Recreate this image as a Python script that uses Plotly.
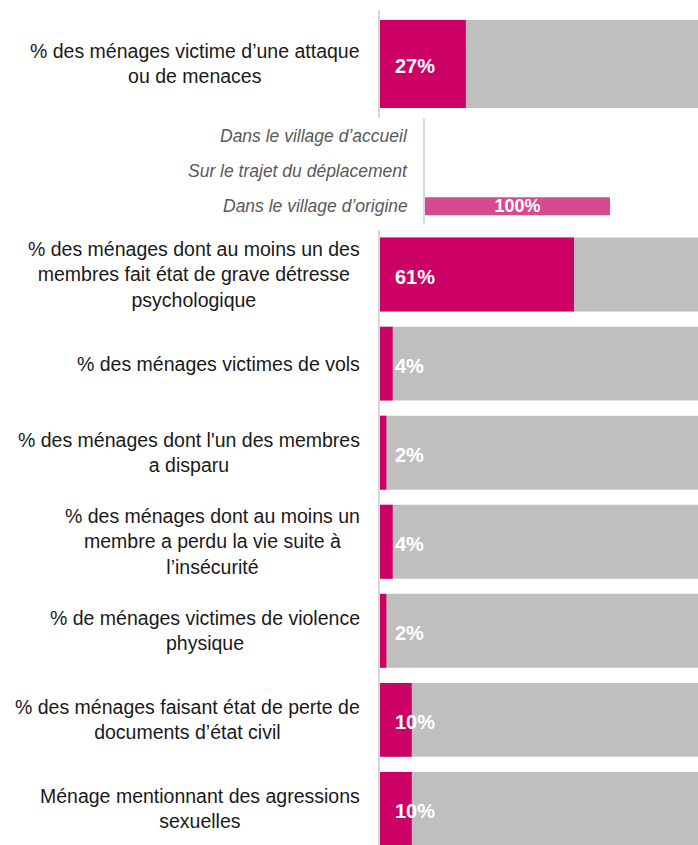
import plotly.graph_objects as go

# ---- data ----
top_label = ["% des ménages victime d’une attaque<br>ou de menaces"]
top_value = [27]

sub_labels = ["Dans le village d’accueil", "Sur le trajet du déplacement", "Dans le village d’origine"]
sub_values = [0, 0, 100]

main_labels = [
    "% des ménages dont au moins un des<br>membres fait état de grave détresse<br>psychologique",
    "% des ménages victimes de vols",
    "% des ménages dont l'un des membres<br>a disparu",
    "% des ménages dont au moins un<br>membre a perdu la vie suite à<br>l’insécurité",
    "% de ménages victimes de violence<br>physique",
    "% des ménages faisant état de perte de<br>documents d’état civil",
    "Ménage mentionnant des agressions<br>sexuelles",
]
main_values = [61, 4, 2, 4, 2, 10, 10]

# ---- style ----
W, H = 698, 845
MAGENTA = "#CD0066"
SUBPINK = "#D84A90"
GREY = "#BFBFBF"
AXIS = "#D9D9D9"
FONT = "Liberation Sans, Arial, sans-serif"


def px_x(p):
    return p / W


def px_y(p):
    return 1 - p / H


fig = go.Figure()

# top chart
fig.add_trace(go.Bar(y=top_label, x=[100] * len(top_label), orientation="h",
                     marker=dict(color=GREY, line=dict(width=0)), width=0.815,
                     xaxis="x", yaxis="y", hoverinfo="skip"))
fig.add_trace(go.Bar(y=top_label, x=top_value, orientation="h",
                     marker=dict(color=MAGENTA, line=dict(width=0)), width=0.815,
                     xaxis="x", yaxis="y"))

# sub chart
fig.add_trace(go.Bar(y=sub_labels, x=sub_values, orientation="h",
                     marker=dict(color=SUBPINK, line=dict(width=0)), width=0.51,
                     text=[f"{v}%" if v > 0 else "" for v in sub_values],
                     textposition="inside", insidetextanchor="middle",
                     constraintext="none",
                     textfont=dict(family=FONT, size=18, color="white", weight="bold"),
                     xaxis="x2", yaxis="y2"))

# main lower chart
fig.add_trace(go.Bar(y=main_labels, x=[100] * len(main_labels), orientation="h",
                     marker=dict(color=GREY, line=dict(width=0)), width=0.83,
                     xaxis="x3", yaxis="y3", hoverinfo="skip"))
fig.add_trace(go.Bar(y=main_labels, x=main_values, orientation="h",
                     marker=dict(color=MAGENTA, line=dict(width=0)), width=0.83,
                     xaxis="x3", yaxis="y3"))

annotations = []
# category labels
for lab in top_label:
    annotations.append(dict(x=px_x(362), xref="paper", y=lab, yref="y", text=lab,
                            xanchor="right", yanchor="middle", align="center", showarrow=False,
                            font=dict(family=FONT, size=19.5, color="#1A1A1A")))
for lab in main_labels:
    annotations.append(dict(x=px_x(362), xref="paper", y=lab, yref="y3", text=lab,
                            xanchor="right", yanchor="middle", align="center", showarrow=False,
                            font=dict(family=FONT, size=19.5, color="#1A1A1A")))
for lab in sub_labels:
    annotations.append(dict(x=px_x(410), xref="paper", y=lab, yref="y2", text=lab,
                            xanchor="right", yanchor="middle", align="right", showarrow=False,
                            font=dict(family=FONT, size=17.5, color="#595959", style="italic")))
# value labels
for lab, v in zip(top_label, top_value):
    annotations.append(dict(x=0, xref="x", y=lab, yref="y", text=f"{v}%", xshift=13, yshift=-2,
                            xanchor="left", yanchor="middle", showarrow=False,
                            font=dict(family=FONT, size=20, color="white", weight="bold")))
for lab, v in zip(main_labels, main_values):
    annotations.append(dict(x=0, xref="x3", y=lab, yref="y3", text=f"{v}%", xshift=13, yshift=-2,
                            xanchor="left", yanchor="middle", showarrow=False,
                            font=dict(family=FONT, size=20, color="white", weight="bold")))

step = 89.0
bottom_cat = (H - (230.5 + step / 2)) / step

axis_common = dict(showgrid=False, zeroline=False, showticklabels=False, ticks="")

fig.update_layout(
    width=W, height=H,
    margin=dict(l=0, r=0, t=0, b=0),
    paper_bgcolor="white", plot_bgcolor="rgba(0,0,0,0)",
    barmode="overlay",
    showlegend=False,
    annotations=annotations,
    xaxis=dict(domain=[px_x(380), 1], range=[0, 100], **axis_common),
    yaxis=dict(domain=[px_y(118), px_y(10)], range=[0.5, -0.5], type="category",
               showline=True, linecolor=AXIS, linewidth=2, anchor="x", **axis_common),
    xaxis2=dict(domain=[px_x(425), px_x(610)], range=[0, 100], anchor="y2", **axis_common),
    yaxis2=dict(domain=[px_y(224), px_y(118)], range=[2.5, -0.5], type="category",
                showline=True, linecolor=AXIS, linewidth=2, anchor="x2", **axis_common),
    xaxis3=dict(domain=[px_x(380), 1], range=[0, 100], anchor="y3", **axis_common),
    yaxis3=dict(domain=[0, px_y(230)], range=[bottom_cat, -0.5], type="category",
                showline=True, linecolor=AXIS, linewidth=2, anchor="x3", **axis_common),
)

fig.write_html("out.html",
               config={"displayModeBar": False},
               post_script="document.body.style.margin='0px';document.body.style.overflow='hidden';")
